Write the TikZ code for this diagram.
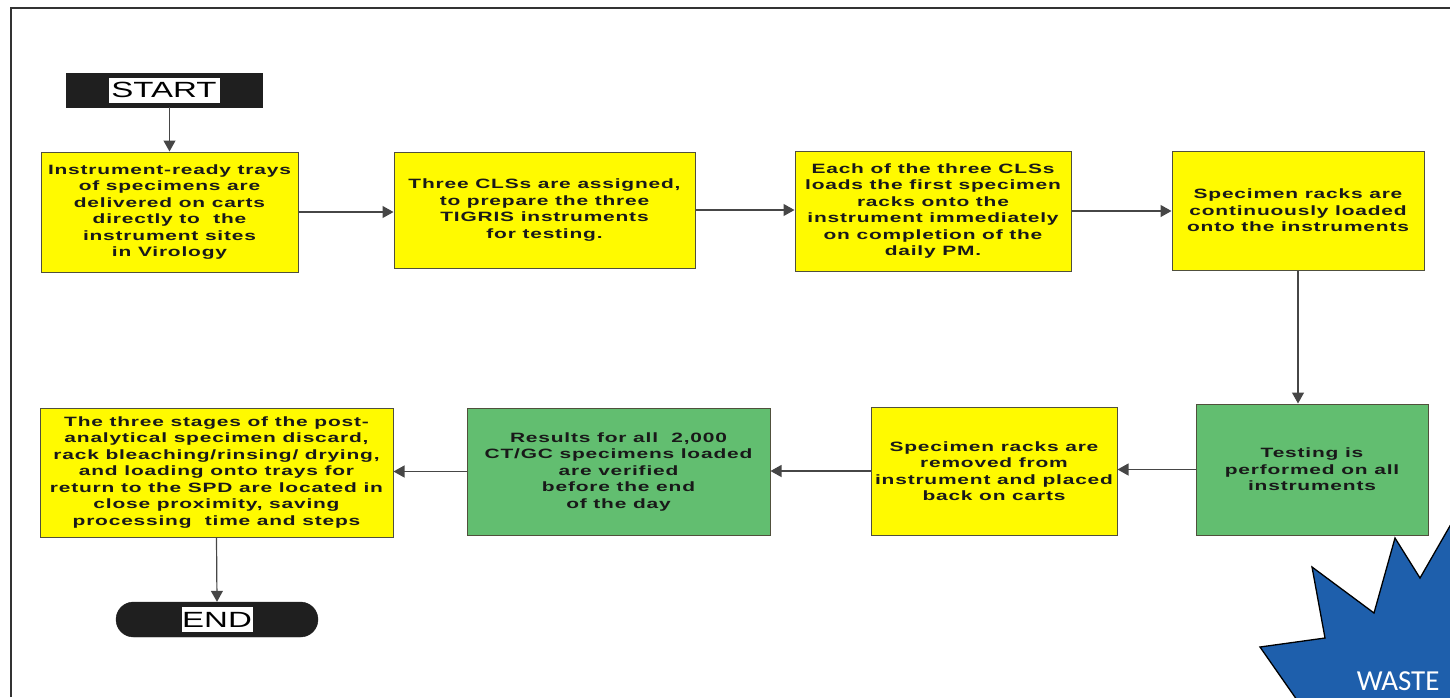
\documentclass[tikz,border=0pt]{standalone}
\usepackage{fontspec}
\setmainfont{Liberation Sans}
\newfontfamily\testobox[FakeStretch=1.55,LetterSpace=6]{Liberation Sans}
\newfontfamily\testosigla[FakeStretch=1.5]{Liberation Sans}
\newfontfamily\testowaste{Carlito}
\usepackage{tikz}
\usetikzlibrary{arrows.meta}
\usepackage{xcolor}
\definecolor{giallo}{RGB}{255,250,0}
\definecolor{verde}{RGB}{98,190,112}
\definecolor{blustella}{RGB}{30,95,172}
\definecolor{bordo}{RGB}{80,80,60}
\definecolor{linea}{RGB}{70,70,70}

\begin{document}
\begin{tikzpicture}[x=1pt, y=-1pt,
    blocco/.style = {draw=bordo, line width=1pt, align=center, text=black!90,
        font=\testobox\bfseries\fontsize{13.5}{16.5}\selectfont, inner sep=0pt},
    gialla/.style = {blocco, fill=giallo},
    verdina/.style = {blocco, fill=verde},
    terminale/.style = {fill=black!88, draw=black!88, inner sep=0pt},
    sigla/.style = {fill=white, inner sep=0pt, minimum height=25,
        font=\testosigla\fontsize{22}{22}\selectfont},
    freccia/.style = {draw=linea, line width=1.2pt, -{Triangle[width=12pt,length=11pt]}}]
    % Pagina
    \useasboundingbox (0,0) rectangle (1450,697);
    \clip (0,0) rectangle (1450,697);
    \draw[line width=2.5pt, black!80] (11,697) -- (11,8) -- (1452,8);
    % Stella WASTE
    \draw[line width=1.3pt, fill=blustella] (1297,700) -- (1260,647) -- (1325,638) -- (1312,567) -- (1374,613) -- (1395,538) -- (1420,578) -- (1462,505) -- (1462,700) -- cycle;
    \node[text=white, font=\testowaste\fontsize{29}{29}\selectfont, anchor=base east] (waste) at (1443,690) {WASTE};
    % Inizio e fine
    \node[terminale, minimum width=196, minimum height=34] (start) at (164,90) {};
    \node[sigla, minimum width=111] (startlbl) at (start) {START};
    \node[terminale, rounded corners=17.5pt, minimum width=202, minimum height=35] (fine) at (217,619.5) {};
    \node[sigla, minimum width=71] (finelbl) at (fine) {END};
    % Prima riga
    \node[gialla, minimum width=257, minimum height=120] (b1) at (169.5,212) {Instrument-ready trays\\ of specimens are\\ delivered on carts\\ directly to\ \ the\\ instrument sites\\ in Virology};
    \node[gialla, minimum width=301, minimum height=116] (b2) at (544.5,210) {Three CLSs are assigned,\\ to prepare the three\\ TIGRIS instruments\\ for testing.};
    \node[gialla, minimum width=276, minimum height=120] (b3) at (933,211) {Each of the three CLSs\\ loads the first specimen\\ racks onto the\\ instrument immediately\\ on completion of the\\ daily PM.};
    \node[gialla, minimum width=252, minimum height=119] (b4) at (1298,210.5) {Specimen racks are\\ continuously loaded\\ onto the instruments};
    % Seconda riga
    \node[verdina, minimum width=232, minimum height=131] (b5) at (1312,469.5) {Testing is\\ performed on all\\ instruments};
    \node[gialla, minimum width=246, minimum height=128] (b6) at (994,471) {Specimen racks are\\ removed from\\ instrument and placed\\ back on carts};
    \node[verdina, minimum width=303, minimum height=127] (b7) at (618.5,471.5) {Results for all\ \ 2,000\\ CT/GC specimens loaded\\ are verified\\ before the end\\ of the day};
    \node[gialla, minimum width=353, minimum height=129] (b8) at (216.5,472.5) {The three stages of the post-\\ analytical specimen discard,\\ rack bleaching/rinsing/ drying,\\ and loading onto trays for\\ return to the SPD are located in\\ close proximity, saving\\ processing\ \ time and steps};
    % Frecce
    \draw[freccia] (start.south -| b1.north) -- (b1.north);
    \draw[freccia] (b1.east) -- (b1.east -| b2.west);
    \draw[freccia] (b2.east) -- (b2.east -| b3.west);
    \draw[freccia] (b3.east) -- (b3.east -| b4.west);
    \draw[freccia] (b4.south) -- (b4.south |- b5.north);
    \draw[freccia] (b5.west) -- (b5.west -| b6.east);
    \draw[freccia] (b6.west) -- (b6.west -| b7.east);
    \draw[freccia] (b7.west) -- (b7.west -| b8.east);
    \draw[freccia] (b8.south) -- (fine.north);
\end{tikzpicture}
\end{document}
